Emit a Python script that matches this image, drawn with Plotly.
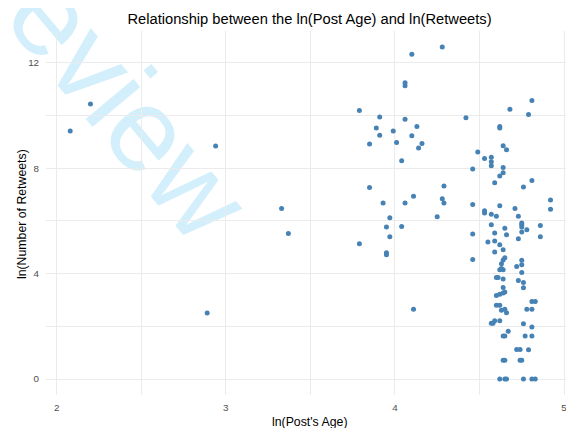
import plotly.graph_objects as go

# ln(Post's Age) and ln(Number of Retweets)
ln_age = [
    2.08, 2.20, 2.94, 3.33, 3.37, 2.89, 4.28, 4.10, 4.06, 4.06,
    3.79, 4.81, 4.68, 4.79, 3.91, 4.06, 4.42, 3.89, 4.13, 4.62,
    4.62, 3.99, 3.91, 4.10, 3.85, 4.01, 4.16, 4.14, 4.64, 4.66,
    4.49, 4.04, 4.53, 4.57, 4.57, 4.57, 4.64, 4.46, 4.64, 4.62,
    4.59, 4.81, 4.76, 4.29, 3.85, 4.11, 4.28, 4.29, 3.93, 4.06,
    4.46, 4.62, 4.92, 4.92, 4.71, 4.73, 4.53, 4.53, 4.57, 4.60,
    3.97, 4.25, 4.57, 4.65, 4.75, 4.75, 4.75, 4.86, 3.95, 4.04,
    4.78, 4.59, 4.75, 4.66, 4.46, 3.97, 4.86, 4.73, 4.55, 4.59,
    4.62, 3.79, 4.64, 4.59, 3.95, 3.95, 4.65, 4.64, 4.46, 4.75,
    4.75, 4.63, 4.72, 4.62, 4.64, 4.75, 4.60, 4.61, 4.64, 4.73,
    4.76, 4.76, 4.64, 4.65, 4.64, 4.62, 4.60, 4.81, 4.83, 4.11,
    4.60, 4.62, 4.63, 4.65, 4.66, 4.78, 4.81, 4.57, 4.58, 4.59,
    4.62, 4.76, 4.81, 4.67, 4.64, 4.65, 4.77, 4.81, 4.72, 4.74,
    4.79, 4.64, 4.65, 4.74, 4.75, 4.62, 4.65, 4.66, 4.76, 4.81,
    4.83, 4.63,
]
ln_retweets = [
    9.41, 10.43, 8.84, 6.47, 5.52, 2.50, 12.59, 12.32, 11.24, 11.12,
    10.18, 10.56, 10.23, 10.03, 9.94, 9.85, 9.91, 9.52, 9.58, 9.58,
    9.52, 9.41, 9.25, 9.23, 8.91, 8.97, 8.93, 8.76, 8.85, 8.70,
    8.61, 8.28, 8.36, 8.41, 8.24, 8.09, 8.02, 7.97, 7.82, 7.70,
    7.44, 7.53, 7.28, 7.32, 7.26, 6.93, 6.84, 6.68, 6.68, 6.68,
    6.62, 6.57, 6.79, 6.44, 6.47, 6.17, 6.38, 6.30, 6.25, 6.17,
    6.12, 6.15, 5.85, 5.72, 5.92, 5.85, 5.77, 5.82, 5.77, 5.78,
    5.66, 5.54, 5.58, 5.47, 5.50, 5.40, 5.40, 5.32, 5.20, 5.23,
    5.09, 5.13, 4.90, 4.82, 4.79, 4.71, 4.60, 4.51, 4.53, 4.50,
    4.33, 4.37, 4.27, 4.14, 4.14, 4.04, 3.85, 3.85, 3.79, 3.74,
    3.66, 3.46, 3.47, 3.30, 3.26, 3.21, 3.17, 2.94, 2.94, 2.65,
    2.80, 2.80, 2.61, 2.65, 2.51, 2.65, 2.65, 2.11, 2.11, 2.21,
    2.21, 2.10, 1.97, 1.81, 1.63, 1.63, 1.63, 1.63, 1.12, 1.12,
    1.11, 0.71, 0.71, 0.71, 0.71, 0.00, 0.00, 0.00, 0.00, 0.00,
    0.00, 4.19,
]

x_ticks = [2, 3, 4, 5]
y_ticks = [0, 4, 8, 12]

title_text = "Relationship between the ln(Post Age) and ln(Retweets)"
x_title = "ln(Post's Age)"
y_title = "ln(Number of Retweets)"
watermark = "Review"

FONT = "Liberation Sans, Arial, sans-serif"

fig = go.Figure()
fig.add_trace(go.Scatter(
    x=ln_age, y=ln_retweets, mode="markers",
    marker=dict(size=5, color="#4682B4", line=dict(width=0)),
    showlegend=False, hoverinfo="x+y",
))

axis_common = dict(
    showline=False, zeroline=False,
    gridcolor="#EBEBEB", gridwidth=1.1,
    ticks="outside", tickcolor="rgba(0,0,0,0)",
    tickfont=dict(family=FONT, size=9.8, color="#4D4D4D"),
)

# watermark sits underneath the grid, like a background layer
wm_x, wm_y = 0.1215, 0.9011
fig.add_shape(
    type="rect", xref="paper", yref="paper",
    x0=wm_x - 0.0005, x1=wm_x + 0.0005, y0=wm_y - 0.0005, y1=wm_y + 0.0005,
    line=dict(width=0), fillcolor="rgba(0,0,0,0)", layer="below",
    label=dict(text=watermark, textangle=50, textposition="middle center",
               font=dict(family=FONT, size=118, color="#D4EFFC")),
)

# the page body has an 8px margin, so the figure is sized to fit the window
fig.update_layout(
    width=566, height=420,
    margin=dict(l=38, r=1, t=23, b=33),
    paper_bgcolor="white", plot_bgcolor="rgba(0,0,0,0)",
    font=dict(family=FONT, color="black"),
    title=dict(text=title_text, x=0.5, xref="paper", xanchor="center",
               y=1 - 11 / 420, yanchor="middle",
               font=dict(family=FONT, size=14.7, color="black")),
    xaxis=dict(range=[1.937, 5.053], tickvals=x_ticks, ticklen=3,
               minor=dict(tickvals=[2.5, 3.5, 4.5], showgrid=True,
                          gridcolor="#EBEBEB", gridwidth=0.6, ticks=""),
               **axis_common),
    yaxis=dict(range=[-0.607, 13.2], tickvals=y_ticks, ticklen=4,
               minor=dict(tickvals=[2, 6, 10], showgrid=True,
                          gridcolor="#EBEBEB", gridwidth=0.6, ticks=""),
               **axis_common),
    annotations=[
        dict(text=x_title, xref="paper", yref="paper", x=0.5, y=-26.5 / 364,
             xanchor="center", yanchor="middle", showarrow=False,
             font=dict(family=FONT, size=12.3, color="black")),
        dict(text=y_title, xref="paper", yref="paper", x=-24 / 527, y=0.497,
             xanchor="center", yanchor="middle", textangle=-90, showarrow=False,
             font=dict(family=FONT, size=12.3, color="black")),
    ],
)

fig.write_html("out.html")
